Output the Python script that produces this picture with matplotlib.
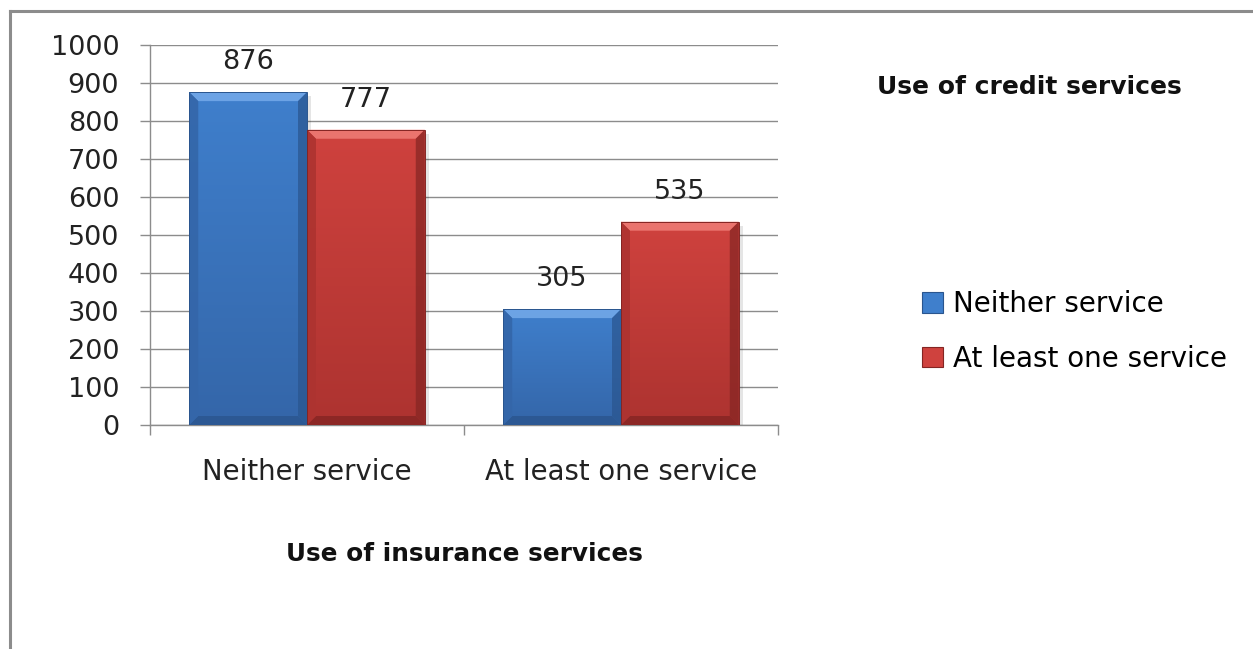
import matplotlib
matplotlib.use("Agg")
import matplotlib.pyplot as plt
from matplotlib.patches import Polygon, Rectangle
from matplotlib.lines import Line2D
import numpy as np

# ---- data ----
categories = ["Neither service", "At least one service"]
series_names = ["Neither service", "At least one service"]
neither_values = [876, 305]
at_least_one_values = [777, 535]
y_ticks = [0, 100, 200, 300, 400, 500, 600, 700, 800, 900, 1000]
x_title = "Use of insurance services"
legend_title = "Use of credit services"

plt.rcParams["font.family"] = ["DejaVu Sans"]

W, H = 1253, 649
fig = plt.figure(figsize=(W / 100, H / 100), dpi=100)
fig.patch.set_facecolor("white")

ax = fig.add_axes([150 / W, 1 - 425 / H, 628 / W, 380 / H])
ax.set_xlim(-0.5, 1.5)
ax.set_ylim(0, 1000)

grid_c = "#8c8c8c"
txt_c = "#222222"
ax.set_yticks(y_ticks)
ax.set_yticklabels([str(v) for v in y_ticks], fontsize=19.5, color=txt_c)
ax.yaxis.grid(True, color=grid_c, lw=1.0, zorder=0)
ax.set_axisbelow(True)
for s in ["top", "right"]:
    ax.spines[s].set_visible(False)
for s in ["left", "bottom"]:
    ax.spines[s].set_color(grid_c)
    ax.spines[s].set_linewidth(1.0)
ax.tick_params(axis="y", length=7.2, width=1.0, color=grid_c, pad=15)

x = np.arange(len(categories))
ax.set_xticks(x)
ax.set_xticklabels(categories, fontsize=19.8, color=txt_c)
ax.set_xticks(np.arange(len(categories) + 1) - 0.5, minor=True)
ax.tick_params(axis="x", which="major", length=0, pad=24)
ax.tick_params(axis="x", which="minor", length=7.2, width=1.0, color=grid_c)
ax.set_xlabel(x_title, fontsize=17.8, fontweight="bold", labelpad=40, color="#111111")

w = 0.375
colors = {
    "blue": ("#3f7fcc", "#72a8e8", "#2a558e", "#3466a9"),
    "red": ("#cf423e", "#ee7a74", "#842523", "#ad3330"),
}
groups = [
    (ax.bar(x - w / 2, neither_values, w, color=colors["blue"][0], zorder=3), "blue"),
    (ax.bar(x + w / 2, at_least_one_values, w, color=colors["red"][0], zorder=3), "red"),
]

# pixel -> data unit sizes for bevel
p0 = ax.transData.inverted().transform((0, 0))
p1 = ax.transData.inverted().transform((9, 9))
dx, dy = p1[0] - p0[0], p1[1] - p0[1]
s1 = ax.transData.inverted().transform((4, 4))
sx, sy = s1[0] - p0[0], s1[1] - p0[1]

for bars, key in groups:
    base, light, dark, mid = colors[key]
    for r in bars:
        x0, y0 = r.get_x(), r.get_y()
        x1, y1 = x0 + r.get_width(), y0 + r.get_height()
        # soft shadow
        ax.add_patch(Rectangle((x0 + sx, y0), r.get_width(), r.get_height() - sy,
                               color="#000000", alpha=0.10, zorder=2.5, lw=0))
        # vertical gradient fill
        grad = np.linspace(0, 1, 100).reshape(-1, 1)
        cmap = matplotlib.colors.LinearSegmentedColormap.from_list("g", [mid, base])
        im = ax.imshow(grad, extent=(x0, x1, y0, y1), origin="lower", cmap=cmap,
                       aspect="auto", zorder=3.1)
        im.set_clip_path(r)
        # bevels
        ax.add_patch(Polygon([(x0, y1), (x1, y1), (x1 - dx, y1 - dy), (x0 + dx, y1 - dy)],
                             closed=True, color=light, lw=0, zorder=3.2, alpha=0.9))
        ax.add_patch(Polygon([(x1, y1), (x1, y0), (x1 - dx, y0 + dy), (x1 - dx, y1 - dy)],
                             closed=True, color=dark, lw=0, zorder=3.2, alpha=0.7))
        ax.add_patch(Polygon([(x0, y0), (x1, y0), (x1 - dx, y0 + dy), (x0 + dx, y0 + dy)],
                             closed=True, color=dark, lw=0, zorder=3.2, alpha=0.8))
        ax.add_patch(Polygon([(x0, y0), (x0, y1), (x0 + dx, y1 - dy), (x0 + dx, y0 + dy)],
                             closed=True, color=mid, lw=0, zorder=3.2, alpha=0.9))
        ax.add_patch(Rectangle((x0, y0), r.get_width(), r.get_height(), fill=False,
                               ec=dark, lw=0.7, zorder=3.3))
    ax.bar_label(bars, labels=[str(int(b.get_height())) for b in bars],
                 padding=12, fontsize=19.5, color=txt_c)

ax.set_xlim(-0.5, 1.5)
ax.set_ylim(0, 1000)

# legend
fig.text(877 / W, 1 - 87 / H, legend_title, fontsize=18, fontweight="bold",
         ha="left", va="center", color="#111111")
handles = [Rectangle((0, 0), 1, 1, fc=colors["blue"][0], ec=colors["blue"][2], lw=0.8),
           Rectangle((0, 0), 1, 1, fc=colors["red"][0], ec=colors["red"][2], lw=0.8)]
fig.legend(handles, series_names, loc="center left",
           bbox_to_anchor=(922 / W, 1 - 331.5 / H), frameon=False, fontsize=20,
           handlelength=0.75, handleheight=0.75, handletextpad=0.35,
           labelspacing=0.95, borderpad=0, borderaxespad=0)

# outer frame
fig.add_artist(Line2D([10 / W, 1.0], [1 - 11 / H, 1 - 11 / H], color="#8c8c8c", lw=2.2,
                      transform=fig.transFigure))
fig.add_artist(Line2D([10 / W, 10 / W], [1 - 11 / H, 0], color="#8c8c8c", lw=2.2,
                      transform=fig.transFigure))

fig.savefig("out.png", dpi=100, facecolor="white")
